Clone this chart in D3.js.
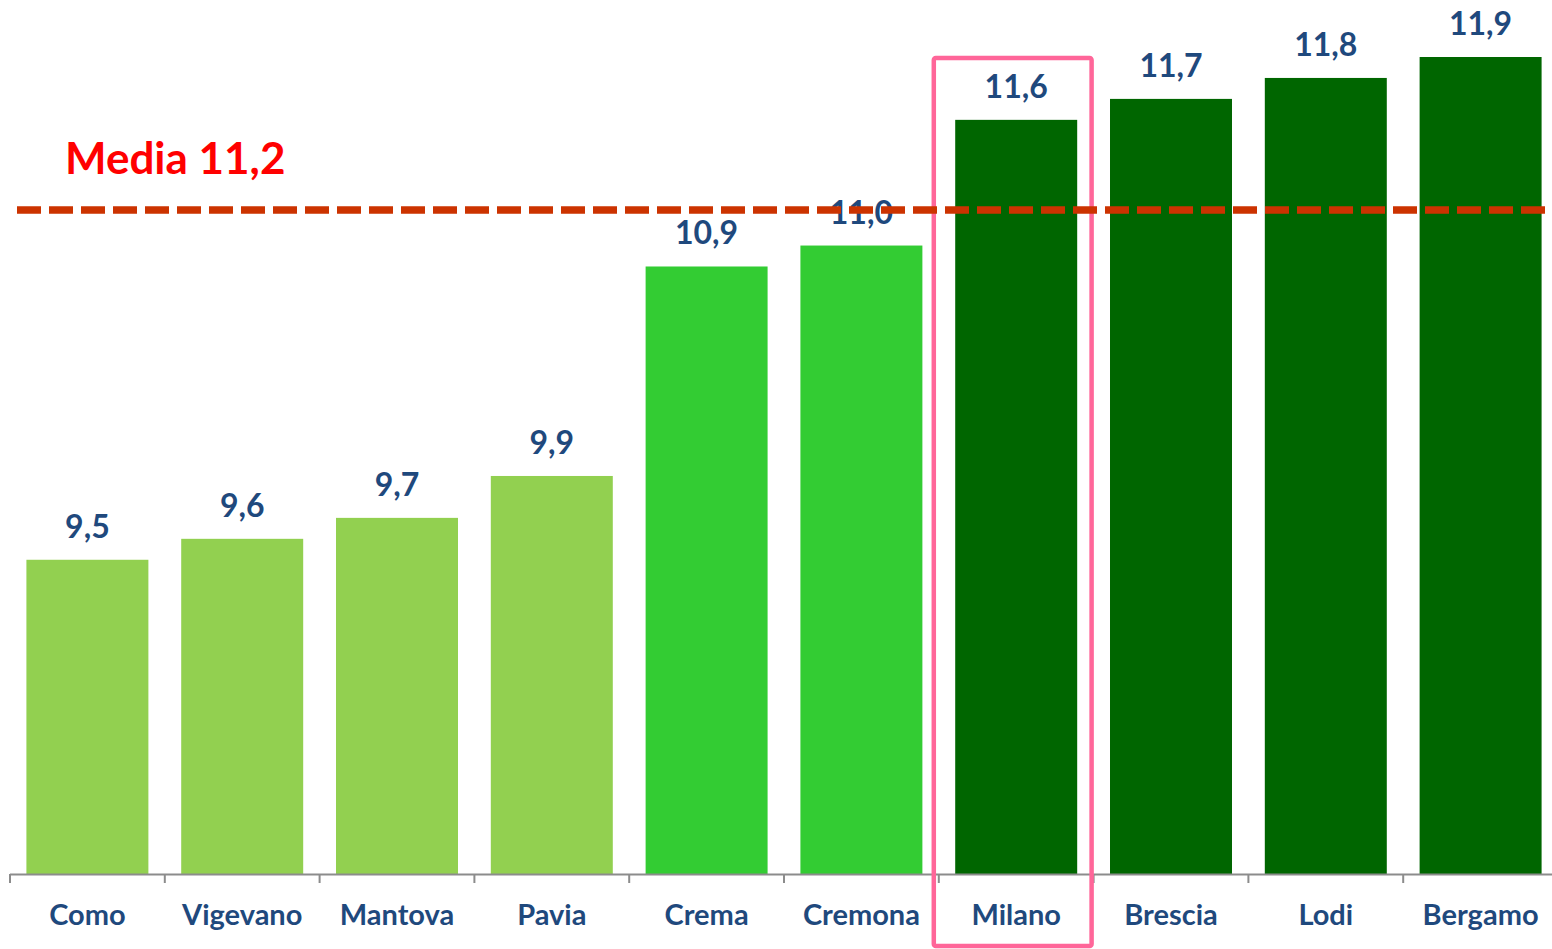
<!DOCTYPE html>
<html>
<head>
<meta charset="utf-8">
<script src="https://cdn.jsdelivr.net/npm/d3@7"></script>
<style>
html,body{margin:0;padding:0;background:#fff;}
svg{display:block;}
</style>
</head>
<body>
<svg id="chart" width="1552" height="949"></svg>
<script>
const categories = ["Como","Vigevano","Mantova","Pavia","Crema","Cremona","Milano","Brescia","Lodi","Bergamo"];
const values = [9.5, 9.6, 9.7, 9.9, 10.9, 11.0, 11.6, 11.7, 11.8, 11.9];
const groups = ["low","low","low","low","mid","mid","high","high","high","high"];
const valueLabels = ["9,5","9,6","9,7","9,9","10,9","11,0","11,6","11,7","11,8","11,9"];
const mediaValue = 11.17;   // drawn position of the average line (label rounds to 11,2)
const mediaLabel = "Media 11,2";
const highlighted = "Milano";

const colors = {low:"#92D050", mid:"#33CC33", high:"#006600"};
const textBlue = "#1F497D";
const font = "Lato, 'Open Sans', sans-serif";

const svg = d3.select("#chart");
const pad = 0.212;
const x = d3.scaleBand().domain(categories).range([10, 1558]).paddingInner(pad).paddingOuter(pad/2);
const y = d3.scaleLinear().domain([8, 11.9]).range([874, 57]);
const gap = x.step()*pad/2;

// bars
svg.selectAll("rect.bar").data(categories).join("rect")
  .attr("class","bar")
  .attr("x", d => x(d))
  .attr("width", x.bandwidth())
  .attr("y", (d,i) => y(values[i]))
  .attr("height", (d,i) => y(8) - y(values[i]))
  .attr("fill", (d,i) => colors[groups[i]]);

// axis line + ticks at band boundaries
const axisG = svg.append("g");
axisG.append("line").attr("x1", x.range()[0]).attr("x2", x.range()[1])
  .attr("y1", y(8)+0.5).attr("y2", y(8)+0.5)
  .attr("stroke","#8c8c8c").attr("stroke-width",2);
axisG.selectAll("line.tick").data(categories).join("line")
  .attr("class","tick")
  .attr("x1", d => x(d)-gap).attr("x2", d => x(d)-gap)
  .attr("y1", y(8)).attr("y2", y(8)+9)
  .attr("stroke","#8c8c8c").attr("stroke-width",2);

// category labels
svg.selectAll("text.cat").data(categories).join("text")
  .attr("class","cat")
  .attr("x", d => x(d)+x.bandwidth()/2)
  .attr("y", 925)
  .attr("text-anchor","middle")
  .attr("font-family", font).attr("font-weight","bold")
  .attr("font-size", 29).attr("fill", textBlue)
  .text(d => d);

// value labels
svg.selectAll("text.val").data(categories).join("text")
  .attr("class","val")
  .attr("x", d => x(d)+x.bandwidth()/2)
  .attr("y", (d,i) => y(values[i]) - 22)
  .attr("text-anchor","middle")
  .attr("font-family", font).attr("font-weight","bold")
  .attr("font-size", 32).attr("fill", textBlue)
  .text((d,i) => valueLabels[i]);

// highlight box
svg.append("rect")
  .attr("x", x(highlighted)-gap-5)
  .attr("y", y(11.9)+1)
  .attr("width", x.step()+3)
  .attr("height", 946 - (y(11.9)+1))
  .attr("rx", 2)
  .attr("fill","none").attr("stroke","#FF6699").attr("stroke-width",4.5);

// media line
svg.append("line")
  .attr("x1", 17).attr("x2", 1546)
  .attr("y1", y(mediaValue)).attr("y2", y(mediaValue))
  .attr("stroke","#CC3300").attr("stroke-width",7.5)
  .attr("stroke-dasharray","24,8");

svg.append("text")
  .attr("x", 65).attr("y", 174)
  .attr("font-family", font).attr("font-weight","bold")
  .attr("font-size", 44).attr("fill","#FF0000")
  .text(mediaLabel);
</script>
</body>
</html>
